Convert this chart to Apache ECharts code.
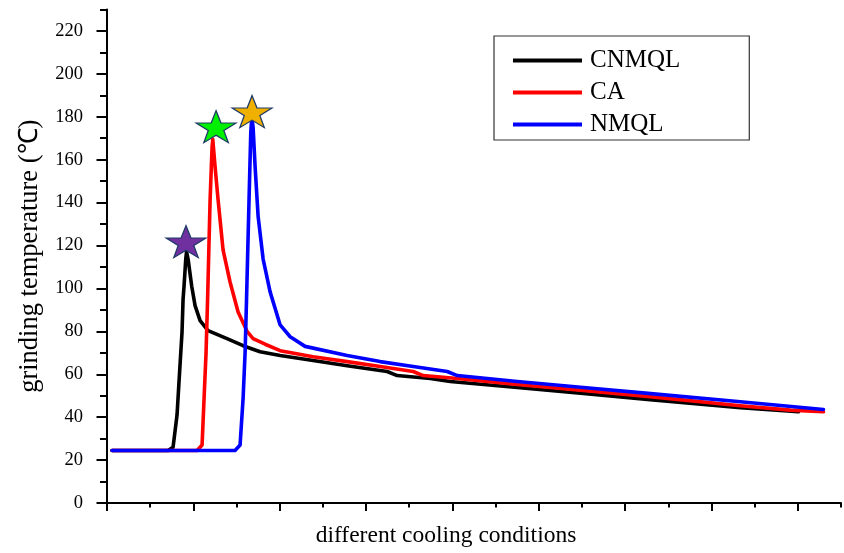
<!DOCTYPE html>
<html>
<head>
<meta charset="utf-8">
<script src="https://cdn.jsdelivr.net/npm/echarts@6/dist/echarts.min.js"></script>
<style>html,body{margin:0;padding:0;background:#fff}#c{width:844px;height:553px}</style>
</head>
<body>
<div id="c"></div>
<script>
// ---- data ----
const seriesNames = ['CNMQL', 'CA', 'NMQL'];
const xCNMQL = [0.058, 0.707, 0.765, 0.811, 0.834, 0.869, 0.881, 0.892, 0.912, 0.921, 0.939, 0.981, 1.020, 1.078, 1.170, 1.390, 1.576, 1.773, 2.005, 2.387, 2.781, 3.244, 3.360, 3.743, 3.975, 4.751, 5.516, 6.257, 7.335, 8.007];
const yCNMQL = [24.5, 24.5, 26, 41, 56.6, 79.8, 95, 101, 113.7, 117, 113.7, 101, 92, 85, 80.3, 76.6, 73.3, 70.5, 68.7, 66.4, 64, 61.3, 59.4, 58, 56.6, 53.8, 51, 48.3, 44.4, 42.5];
const xCA = [0.058, 1.043, 1.101, 1.124, 1.147, 1.165, 1.194, 1.217, 1.225, 1.251, 1.286, 1.344, 1.425, 1.518, 1.622, 1.692, 1.831, 2.005, 2.387, 2.781, 3.163, 3.546, 3.662, 4.056, 4.751, 5.516, 6.257, 7.335, 7.914, 8.297];
const yCA = [24.5, 24.5, 27, 48.7, 70, 95, 141.5, 166, 169.5, 157, 141.5, 118, 103, 89, 80, 76.6, 74, 71, 68.2, 65.9, 63.6, 61.3, 59.4, 58, 55.2, 52.4, 49.7, 45.3, 43.3, 42.5];
const xNMQL = [0.058, 1.483, 1.541, 1.576, 1.599, 1.616, 1.645, 1.665, 1.677, 1.692, 1.715, 1.750, 1.808, 1.889, 2.005, 2.121, 2.294, 2.781, 3.163, 3.546, 3.940, 4.056, 4.751, 5.516, 6.234, 7.335, 8.297];
const yNMQL = [24.5, 24.5, 27, 48.7, 70, 95, 141.5, 172.6, 180, 175, 156.8, 133.6, 113.7, 98.4, 83, 77.5, 73, 68.7, 65.9, 63.6, 61.3, 59.4, 56.6, 53.8, 51.2, 47.2, 43.6];
const starX = [0.915, 1.263, 1.680];
const starY = [121.8, 175.4, 182.4];
const starColors = ['#7030A0', '#00F000', '#F0B000'];
const yTickLabels = [0, 20, 40, 60, 80, 100, 120, 140, 160, 180, 200, 220];
const xMajorTicks = [0, 1, 2, 3, 4, 5, 6, 7, 8];
const xAxisName = 'different cooling conditions';
const yAxisName = 'grinding temperature (℃)';

// ---- chart ----
const FONT = '"Liberation Serif", "Times New Roman", serif';
const lineColors = ['#000000', '#FF0000', '#0000FF'];
const zip = (xs, ys) => xs.map((x, i) => [x, ys[i]]);
const seriesData = [zip(xCNMQL, yCNMQL), zip(xCA, yCA), zip(xNMQL, yNMQL)];
const STAR = 'path://M50,0 L61.8,35.1 L98.1,35.1 L68.8,56.7 L79.4,91.2 L50,70 L20.6,91.2 L31.2,56.7 L1.9,35.1 L38.2,35.1 Z';

const chart = echarts.init(document.getElementById('c'), null, {renderer: 'canvas'});
const axisLine = {show: true, lineStyle: {color: '#000', width: 2}};
chart.setOption({
  animation: false,
  backgroundColor: '#fff',
  grid: {left: 107, right: 3, top: 9.5, bottom: 48, containLabel: false},
  legend: {
    data: seriesNames,
    orient: 'vertical',
    left: 494, top: 36,
    padding: [12, 69, 3, 19],
    itemGap: 7,
    itemWidth: 69, itemHeight: 4,
    icon: 'rect',
    borderColor: '#333', borderWidth: 1.2,
    textStyle: {fontFamily: FONT, fontSize: 25, color: '#000', padding: [0, 0, 0, 3]}
  },
  xAxis: [{
    type: 'value', min: 0, max: 8.5, interval: 0.5,
    axisLine: axisLine,
    axisTick: {show: true, length: 4.5, lineStyle: {color: '#000', width: 2}},
    axisLabel: {show: false},
    splitLine: {show: false},
    name: xAxisName, nameLocation: 'middle', nameGap: 21,
    nameTextStyle: {fontFamily: FONT, fontSize: 23.5, color: '#000', padding: [0, 56, 0, 0]}
  }, {
    type: 'value', min: 0, max: 8.5, position: 'bottom',
    axisLine: {show: false},
    axisTick: {show: true, length: 8, customValues: xMajorTicks, lineStyle: {color: '#000', width: 2}},
    axisLabel: {show: false},
    splitLine: {show: false}
  }],
  yAxis: [{
    type: 'value', min: 0, max: 230, interval: 10,
    axisLine: axisLine,
    axisTick: {show: true, length: 7, lineStyle: {color: '#000', width: 2}},
    axisLabel: {fontFamily: FONT, fontSize: 18.5, color: '#000', margin: 24,
      formatter: v => (yTickLabels.indexOf(v) >= 0 ? String(v) : '')},
    splitLine: {show: false},
    name: yAxisName, nameLocation: 'middle', nameGap: 63, nameRotate: 90,
    nameTextStyle: {fontFamily: FONT, fontSize: 26.5, color: '#000'}
  }, {
    type: 'value', min: 0, max: 230, position: 'left',
    axisLine: {show: false},
    axisTick: {show: true, length: 10.5, customValues: yTickLabels, lineStyle: {color: '#000', width: 2}},
    axisLabel: {show: false},
    splitLine: {show: false}
  }],
  series: seriesNames.map((n, i) => ({
    name: n, type: 'line', xAxisIndex: 0, yAxisIndex: 0,
    data: seriesData[i], symbol: 'none', smooth: false,
    color: lineColors[i],
    lineStyle: {color: lineColors[i], width: 3.6, cap: 'round', join: 'round'},
    z: 2 + i
  })).concat([{
    type: 'scatter', xAxisIndex: 0, yAxisIndex: 0, z: 10,
    symbol: STAR, symbolSize: [40, 32], symbolKeepAspect: false,
    data: starX.map((x, i) => ({value: [x, starY[i]], itemStyle: {color: starColors[i]}})),
    itemStyle: {borderColor: '#1F3A68', borderWidth: 1.2, opacity: 1},
    emphasis: {disabled: true}
  }])
});
</script>
</body>
</html>
